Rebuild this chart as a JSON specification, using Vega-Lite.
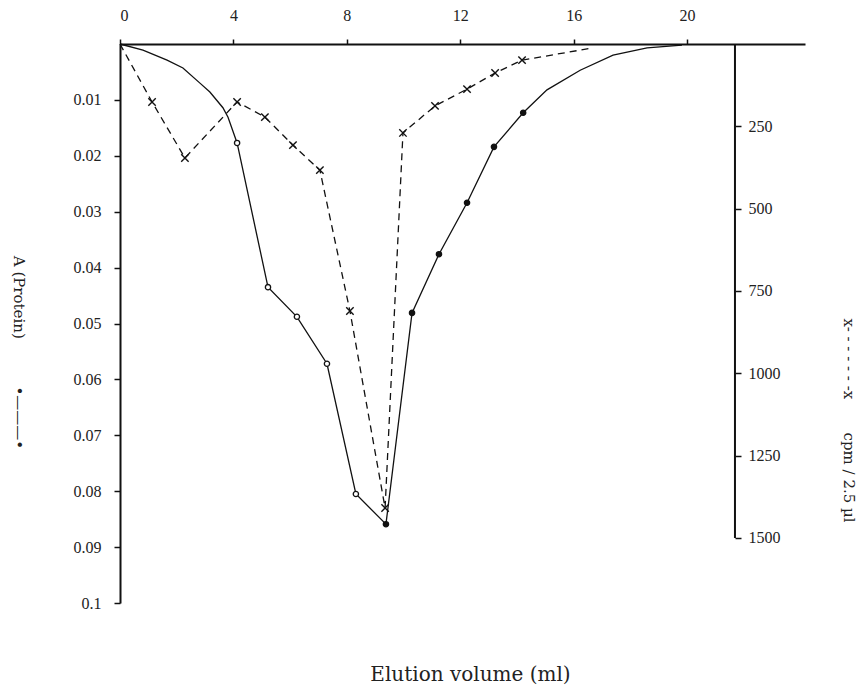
{
  "$schema": "https://vega.github.io/schema/vega-lite/v6.json",
  "width": 685,
  "height": 559,
  "autosize": {"type": "none"},
  "padding": {"left": 120, "top": 44, "right": 59, "bottom": 87},
  "background": "white",
  "config": {
    "view": {"stroke": null},
    "font": "Liberation Serif",
    "axis": {
      "grid": false,
      "domainColor": "#111",
      "domainWidth": 2,
      "tickColor": "#111",
      "tickWidth": 1.5,
      "tickSize": 6,
      "labelFont": "Liberation Serif",
      "labelFontSize": 16,
      "labelColor": "#222",
      "titleFont": "DejaVu Serif",
      "titleFontWeight": "normal",
      "titleFontSize": 15,
      "titleColor": "#222"
    }
  },
  "title": {
    "text": "Elution volume (ml)",
    "orient": "bottom",
    "offset": 54,
    "dx": 8,
    "fontSize": 20,
    "fontWeight": "normal",
    "font": "DejaVu Serif",
    "color": "#222"
  },
  "datasets": {
    "protein": [
      {"x": 0, "a": 0, "m": 0},
      {"x": 0.81, "a": 0.0011, "m": 0},
      {"x": 1.66, "a": 0.0029, "m": 0},
      {"x": 2.22, "a": 0.0043, "m": 0},
      {"x": 2.82, "a": 0.007, "m": 0},
      {"x": 3.17, "a": 0.0086, "m": 0},
      {"x": 3.63, "a": 0.0114, "m": 0},
      {"x": 3.81, "a": 0.0131, "m": 0},
      {"x": 4.13, "a": 0.0177, "m": 1},
      {"x": 5.22, "a": 0.0435, "m": 1},
      {"x": 6.24, "a": 0.0488, "m": 1},
      {"x": 7.3, "a": 0.0572, "m": 1},
      {"x": 8.32, "a": 0.0805, "m": 1},
      {"x": 9.38, "a": 0.0859, "m": 1},
      {"x": 10.3, "a": 0.0481, "m": 1},
      {"x": 11.25, "a": 0.0376, "m": 1},
      {"x": 12.24, "a": 0.0284, "m": 1},
      {"x": 13.19, "a": 0.0184, "m": 1},
      {"x": 14.22, "a": 0.0123, "m": 1},
      {"x": 15.06, "a": 0.0082, "m": 0},
      {"x": 16.23, "a": 0.0047, "m": 0},
      {"x": 17.39, "a": 0.002, "m": 0},
      {"x": 18.59, "a": 0.0007, "m": 0},
      {"x": 19.82, "a": 0.0002, "m": 0}
    ],
    "cpm": [
      {"x": 0, "c": 0, "m": 0},
      {"x": 1.13, "c": 176, "m": 1},
      {"x": 2.29, "c": 346, "m": 1},
      {"x": 4.13, "c": 176, "m": 1},
      {"x": 5.11, "c": 222, "m": 1},
      {"x": 6.1, "c": 307, "m": 1},
      {"x": 7.05, "c": 383, "m": 1},
      {"x": 8.11, "c": 811, "m": 1},
      {"x": 9.35, "c": 1409, "m": 1},
      {"x": 9.98, "c": 270, "m": 1},
      {"x": 11.11, "c": 188, "m": 1},
      {"x": 12.24, "c": 137, "m": 1},
      {"x": 13.23, "c": 88, "m": 1},
      {"x": 14.18, "c": 49, "m": 1},
      {"x": 16.68, "c": 12, "m": 0}
    ]
  },
  "resolve": {"scale": {"y": "independent"}, "axis": {"y": "independent"}},
  "layer": [
    {
      "data": {"name": "protein"},
      "encoding": {
        "x": {
          "field": "x",
          "type": "quantitative",
          "scale": {"domain": [0, 24.16], "nice": false, "zero": false},
          "axis": {
            "orient": "top",
            "values": [0, 4, 8, 12, 16, 20],
            "title": null,
            "labelPadding": 16,
            "tickSize": 5
          }
        },
        "y": {
          "field": "a",
          "type": "quantitative",
          "scale": {"domain": [0, 0.1], "nice": false, "reverse": true},
          "axis": {
            "orient": "left",
            "values": [0.01, 0.02, 0.03, 0.04, 0.05, 0.06, 0.07, 0.08, 0.09, 0.1],
            "format": ".2~f",
            "labelPadding": 13,
            "title": "A (Protein)\u00a0\u00a0\u00a0\u00a0\u00a0\u00a0\u00a0\u00a0\u00a0\u00a0•———•",
            "titleAngle": 90,
            "titleX": -102,
            "titleY": 308,
            "titleBaseline": "middle"
          }
        }
      },
      "layer": [
        {"mark": {"type": "line", "color": "#111", "strokeWidth": 1.3}},
        {
          "transform": [{"filter": "datum.m == 1"}],
          "mark": {"type": "point", "shape": "circle", "size": 28, "stroke": "#111", "strokeWidth": 1.3, "opacity": 1},
          "encoding": {
            "fill": {"condition": {"test": "datum.x > 9", "value": "#111"}, "value": "white"}
          }
        }
      ]
    },
    {
      "data": {"name": "cpm"},
      "encoding": {
        "x": {"field": "x", "type": "quantitative"},
        "y": {
          "field": "c",
          "type": "quantitative",
          "scale": {"domain": [0, 1697.5], "nice": false, "reverse": true},
          "axis": {
            "orient": "right",
            "offset": -70,
            "domain": false,
            "values": [250, 500, 750, 1000, 1250, 1500],
            "format": "d",
            "labelPadding": 7,
            "title": "x- - - - - - -x\u00a0\u00a0\u00a0\u00a0\u00a0\u00a0\u00a0cpm / 2.5 µl",
            "titleAngle": 90,
            "titleX": 113,
            "titleY": 376,
            "titleBaseline": "middle"
          }
        }
      },
      "layer": [
        {"mark": {"type": "line", "color": "#111", "strokeWidth": 1.3, "strokeDash": [7, 5]}},
        {
          "transform": [{"filter": "datum.m == 1"}],
          "mark": {"type": "point", "shape": "M-1,-1L1,1M-1,1L1,-1", "size": 55, "stroke": "#111", "strokeWidth": 1.4, "filled": false, "opacity": 1}
        },
        {
          "transform": [{"filter": "datum.x == 0"}],
          "mark": {"type": "rule", "color": "#111", "strokeWidth": 2},
          "encoding": {
            "x": {"datum": 21.69},
            "y": {"datum": 0},
            "y2": {"datum": 1500}
          }
        }
      ]
    }
  ]
}
